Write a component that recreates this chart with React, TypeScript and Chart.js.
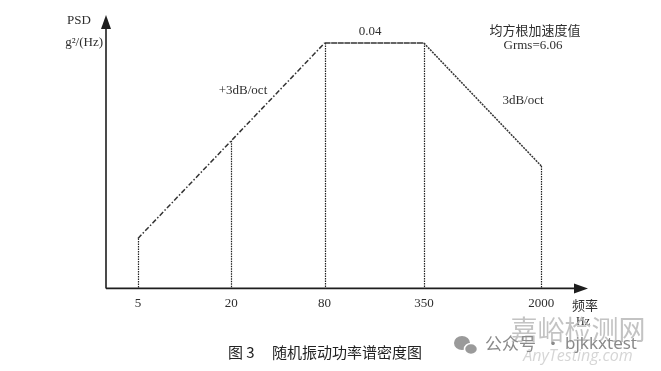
import React, { useEffect, useRef } from 'react';
import { Chart, registerables } from 'chart.js';

Chart.register(...registerables);

// ---- data ----
const frequencies = [5, 20, 80, 350, 2000];
const psdValues = [0.0025, 0.01, 0.04, 0.04, 0.007];
const tickValues = [5, 20, 80, 350, 2000];
const tickLabels = ['5', '20', '80', '350', '2000'];
const slopeLabels = ['+3dB/oct', '3dB/oct'];
const plateauLabel = '0.04';
const grmsLabels = ['均方根加速度值', 'Grms=6.06'];
const yAxisLabels = ['PSD', 'g²/(Hz)'];
const xAxisLabels = ['频率', 'Hz'];
const captionParts = ['图 3', '随机振动功率谱密度图'];
const watermark = { site: '嘉峪检测网', account: '公众号', dot: '·', id: 'bjkkxtest', url: 'AnyTesting.com' };

const SERIF = '"Liberation Serif", "DejaVu Serif", serif';
const CJK = '"Noto Sans CJK SC", sans-serif';

const overlay = {
  id: 'overlay',
  beforeDatasetsDraw(chart: any) {
    const { ctx, chartArea, scales } = chart;
    const x = scales.x;
    const y = scales.y;
    ctx.save();
    ctx.strokeStyle = '#222';
    ctx.lineWidth = 1.2;
    ctx.setLineDash([1.5, 1]);
    frequencies.forEach((f, i) => {
      const px = Math.round(x.getPixelForValue(f)) + 0.5;
      const py = y.getPixelForValue(psdValues[i]);
      ctx.beginPath();
      ctx.moveTo(px, py);
      ctx.lineTo(px, chartArea.bottom);
      ctx.stroke();
    });
    ctx.restore();
  },
  afterDraw(chart: any) {
    const { ctx, chartArea } = chart;
    const { left, right, top, bottom } = chartArea;
    ctx.save();
    // axes
    ctx.strokeStyle = '#1e1e1e';
    ctx.fillStyle = '#1e1e1e';
    ctx.lineWidth = 1.6;
    ctx.setLineDash([]);
    ctx.beginPath();
    ctx.moveTo(left, bottom);
    ctx.lineTo(left, top + 10);
    ctx.moveTo(left, bottom);
    ctx.lineTo(right - 10, bottom);
    ctx.stroke();
    // arrows
    ctx.beginPath();
    ctx.moveTo(left, top);
    ctx.lineTo(left - 5, top + 14);
    ctx.lineTo(left + 5, top + 14);
    ctx.closePath();
    ctx.fill();
    ctx.beginPath();
    ctx.moveTo(right, bottom);
    ctx.lineTo(right - 14, bottom - 5);
    ctx.lineTo(right - 14, bottom + 5);
    ctx.closePath();
    ctx.fill();

    // texts
    ctx.fillStyle = '#2e2e2e';
    ctx.textBaseline = 'middle';
    ctx.textAlign = 'center';
    ctx.font = `13px ${SERIF}`;
    ctx.fillText(yAxisLabels[0], 79, 21);
    ctx.textAlign = 'right';
    ctx.fillText(yAxisLabels[1], 103, 43);
    ctx.textAlign = 'center';
    ctx.fillText(slopeLabels[0], 243, 91);
    ctx.fillText(plateauLabel, 370, 32);
    ctx.fillText(grmsLabels[1], 533, 46);
    ctx.fillText(slopeLabels[1], 523, 101);
    ctx.font = `12px ${SERIF}`;
    ctx.fillText(xAxisLabels[1], 583, 322);
    ctx.font = `13px ${CJK}`;
    ctx.fillText(grmsLabels[0], 535, 30);
    ctx.fillText(xAxisLabels[0], 585, 305);

    // caption
    ctx.fillStyle = '#222';
    ctx.textAlign = 'left';
    ctx.font = `15px ${CJK}`;
    ctx.fillText(captionParts[0], 228, 352);
    ctx.fillText(captionParts[1], 272, 352);

    // watermark
    ctx.fillStyle = 'rgba(185,185,185,0.85)';
    ctx.textAlign = 'center';
    ctx.font = `27px ${CJK}`;
    ctx.fillText(watermark.site, 578, 330);
    ctx.fillStyle = 'rgba(185,185,185,0.6)';
    ctx.font = `italic 16px "Open Sans", sans-serif`;
    ctx.fillText(watermark.url, 578, 356);
    // wechat icon
    ctx.fillStyle = '#9a9a9a';
    ctx.beginPath();
    ctx.ellipse(462, 343, 8, 7, 0, 0, Math.PI * 2);
    ctx.fill();
    ctx.strokeStyle = '#fff';
    ctx.lineWidth = 1.5;
    ctx.beginPath();
    ctx.ellipse(471, 349, 6.5, 5.5, 0, 0, Math.PI * 2);
    ctx.fill();
    ctx.stroke();
    ctx.fillStyle = '#8a8a8a';
    ctx.textAlign = 'left';
    ctx.font = `17px ${CJK}`;
    ctx.fillText(watermark.account, 485, 344);
    ctx.textAlign = 'center';
    ctx.fillText(watermark.dot, 553, 344);
    ctx.textAlign = 'left';
    ctx.font = `17px "Noto Sans", sans-serif`;
    ctx.fillText(watermark.id, 565, 344);
    ctx.restore();
  },
};

export default function App() {
  const canvasRef = useRef<HTMLCanvasElement | null>(null);

  useEffect(() => {
    if (!canvasRef.current) return;
    const chart = new Chart(canvasRef.current, {
      type: 'line',
      data: {
        datasets: [
          {
            data: frequencies.map((f, i) => ({ x: f, y: psdValues[i] })),
            borderColor: '#333',
            borderWidth: 1.5,
            pointRadius: 0,
            tension: 0,
            fill: false,
            segment: {
              borderDash: (c: any) =>
                c.p0DataIndex < 2 ? [5, 2, 1.5, 2] : c.p0DataIndex === 2 ? [6, 0.6] : [2, 1],
            },
          },
        ],
      },
      options: {
        responsive: false,
        animation: false,
        events: [],
        layout: { padding: { left: 106, right: 73, top: 15, bottom: 53 } },
        plugins: { legend: { display: false }, tooltip: { enabled: false } },
        scales: {
          x: {
            type: 'logarithmic',
            min: 3.11,
            max: 4010,
            grid: { display: false, drawTicks: false },
            border: { display: false },
            afterBuildTicks: (scale: any) => {
              scale.ticks = tickValues.map((v) => ({ value: v }));
            },
            ticks: {
              autoSkip: false,
              maxRotation: 0,
              padding: 7,
              color: '#2e2e2e',
              font: { family: SERIF, size: 13 },
              callback: (v: any) => tickLabels[tickValues.indexOf(Number(v))] ?? '',
            },
          },
          y: {
            type: 'logarithmic',
            min: 0.00123,
            max: 0.0596,
            display: false,
          },
        },
      },
      plugins: [overlay],
    });
    return () => chart.destroy();
  }, []);

  return (
    <div style={{ position: 'absolute', left: 0, top: 0, width: 661, height: 371, background: '#fff' }}>
      <canvas ref={canvasRef} width={661} height={371} style={{ display: 'block', width: 661, height: 371 }} />
    </div>
  );
}
